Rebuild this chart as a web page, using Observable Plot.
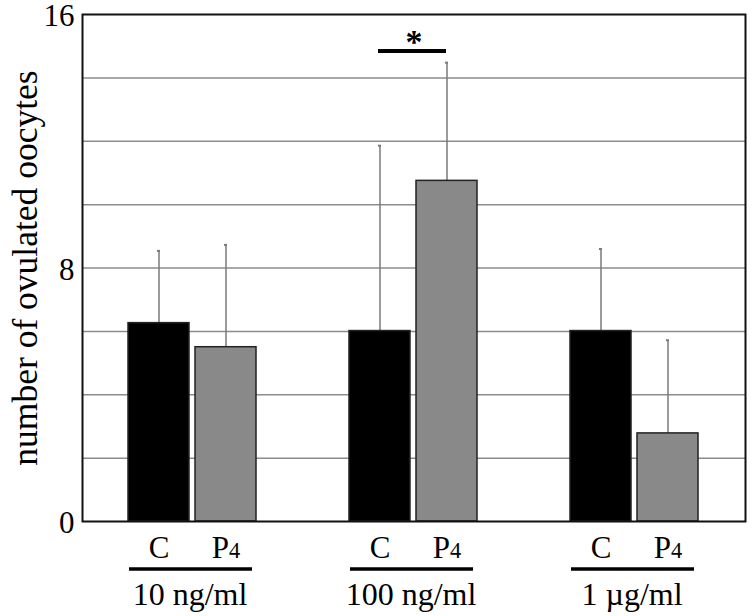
<!DOCTYPE html>
<html><head><meta charset="utf-8">
<script src="https://cdn.jsdelivr.net/npm/d3@7"></script>
<script src="https://cdn.jsdelivr.net/npm/@observablehq/plot@0.6"></script>
<style>
body{margin:0;background:#fff}
svg{display:block}
#chart svg, #chart svg text{font-family:"Liberation Serif","Times New Roman",serif !important}
</style>
</head><body><div id="chart"></div>
<script>
const groups = ["10 ng/ml", "100 ng/ml", "1 µg/ml"];
const treatments = ["C", "P4"];
const means = [6.26, 5.50, 6.01, 10.75, 6.01, 2.78];
const upperErrors = [2.28, 3.23, 5.85, 3.73, 2.59, 2.94];
const yTicks = [0, 8, 16];
const gridValues = [2, 4, 6, 8, 10, 12, 14];
const yLabel = "number of ovulated oocytes";
const sigGroup = "100 ng/ml";
const sigLevel = 14.85;
const sigStarLevel = 15.13;
const sigLabel = "*";
const underlineLevel = -1.5;

const data = [];
groups.forEach((g, i) => treatments.forEach((t, j) => {
  const k = i * treatments.length + j;
  data.push({group: g, treatment: t, mean: means[k], hi: means[k] + upperErrors[k]});
}));

const plot = Plot.plot({
  width: 756, height: 616,
  marginLeft: 81, marginRight: 10, marginTop: 14, marginBottom: 95,
  style: {fontFamily: "Liberation Serif, serif", background: "#fff", color: "#000"},
  fx: {domain: groups, padding: 0, label: null},
  x: {domain: treatments, paddingInner: 0.088, paddingOuter: 0.674, label: null},
  y: {domain: [0, 16], label: null},
  color: {domain: treatments, range: ["#000000", "#898989"]},
  marks: [
    Plot.gridY(gridValues, {stroke: "#8c8c8c", strokeOpacity: 1, strokeWidth: 1.5}),
    Plot.ruleX(data, {fx: "group", x: "treatment", y1: "mean", y2: "hi", stroke: "#7a7a7a", strokeWidth: 1.5}),
    Plot.tickY(data, {fx: "group", x: "treatment", y: "hi", stroke: "#7a7a7a", strokeWidth: 2, insetLeft: 29, insetRight: 29}),
    Plot.barY(data, {fx: "group", x: "treatment", y: "mean", fill: "treatment", stroke: "#222", strokeWidth: 1.5}),
    Plot.frame({facet: "super", stroke: "#111", strokeWidth: 2}),
    Plot.ruleY([{group: sigGroup, y: sigLevel}], {fx: "group", y: "y", x1: () => treatments[0], x2: () => treatments[1], stroke: "#000", strokeWidth: 4, insetLeft: 29, insetRight: 31}),
    Plot.text([{group: sigGroup, y: sigStarLevel}], {fx: "group", y: "y", text: () => sigLabel, fontSize: 34, fontWeight: "bold", lineAnchor: "middle"}),
    Plot.axisY(yTicks, {tickSize: 0, tickPadding: 8, fontSize: 31, label: null, dy: 2}),
    Plot.text([{group: groups[0], label: yLabel}], {fx: "group", text: "label", frameAnchor: "left", rotate: -90, dx: -57, fontSize: 35.5, lineAnchor: "middle", textAnchor: "middle"}),
    Plot.axisX({tickSize: 0, tickPadding: 14, fontSize: 31, label: null}),
    Plot.ruleY([underlineLevel], {stroke: "#000", strokeWidth: 3.5, insetLeft: 47, insetRight: 51}),
    Plot.axisFx({anchor: "bottom", tickSize: 0, tickPadding: 61, fontSize: 32, label: null, dx: -3})
  ]
});
const ns = "http://www.w3.org/2000/svg";
plot.querySelectorAll("text").forEach(t => {
  if (t.textContent === "P4") {
    const tgt = t.querySelector("tspan") || t;
    tgt.textContent = "P";
    const s = document.createElementNS(ns, "tspan");
    s.setAttribute("font-size", "72%");
    s.textContent = "4";
    tgt.appendChild(s);
  }
});
document.getElementById("chart").appendChild(plot);
</script>
</body></html>
